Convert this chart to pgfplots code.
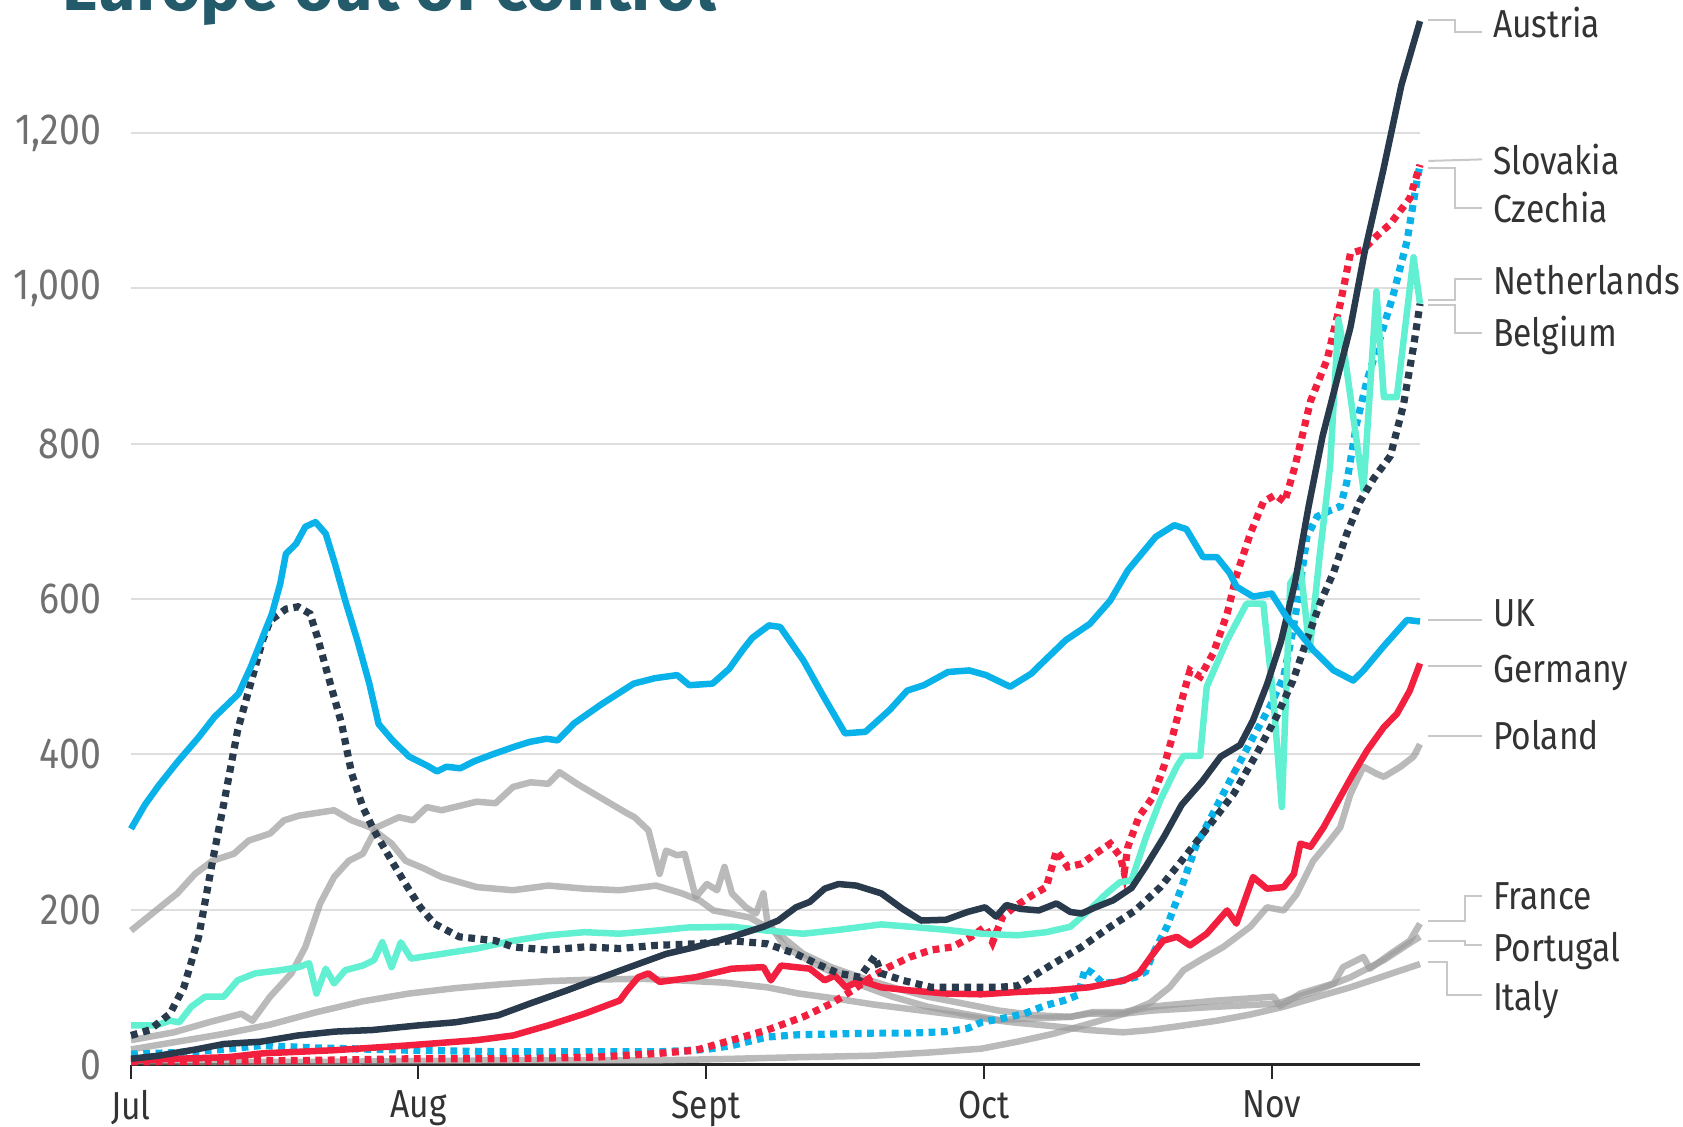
\documentclass[border=0pt]{standalone}
\usepackage{pgfplots}
\pgfplotsset{compat=1.18}
\usepackage{fontspec}
\setmainfont{Fira Sans}[FakeStretch=0.86]
\newfontfamily\titlefont{Fira Sans}
\definecolor{ukblue}{HTML}{0AB2EA}
\definecolor{navy}{HTML}{283A4C}
\definecolor{cred}{HTML}{F2203E}
\definecolor{turq}{HTML}{62F0D2}
\definecolor{gline}{HTML}{9C9C9C}
\definecolor{gridc}{HTML}{DEDEDE}
\definecolor{leader}{HTML}{C8C8C8}
\definecolor{ttl}{HTML}{245B6B}
\definecolor{lbl}{HTML}{333333}
\definecolor{ytl}{HTML}{707070}
\tikzset{
  solidl/.style={line width=0.65mm, line join=round},
  dotl/.style={line width=0.72mm, dash pattern=on 0.68mm off 0.55mm, line cap=butt},
  grayl/.style={line width=0.65mm, line join=round, gline, opacity=0.7},
  lead/.style={draw=leader, line width=0.2mm},
  lab/.style={anchor=west, inner sep=0pt, text height=2.7mm, text depth=0pt, text=lbl, font=\fontsize{11.1}{13}\selectfont},
}
\begin{document}
\begin{tikzpicture}
\begin{axis}[
  at={(0,0)}, anchor=south west,
  scale only axis, width=128.9mm, height=93.2mm,
  xmin=0, xmax=139, ymin=0, ymax=1200,
  clip=false,
  axis x line*=bottom, axis y line*=left,
  y axis line style={draw=none},
  x axis line style={line width=0.3mm, draw=black!85},
  xtick={0,31,62,92,123}, xticklabels={Jul,Aug,Sept,Oct,Nov},
  ytick={0,200,400,600,800,1000,1200}, yticklabels={0,200,400,600,800,{1,000},{1,200}},
  tick align=outside,
  xtick style={line width=0.2mm, draw=black!85, /pgfplots/major tick length=1.4mm},
  ytick style={draw=none, /pgfplots/major tick length=0pt},
  ymajorgrids, grid style={draw=gridc, line width=0.2mm},
  yticklabel style={anchor=east, inner sep=0pt, xshift=-1.4mm, text=ytl, font=\fontsize{12.4}{14}\selectfont},
  xticklabel style={anchor=north, inner sep=0pt, yshift=-1.0mm, text=lbl, font=\fontsize{11.1}{13}\selectfont},
]
% Poland
\addplot[grayl] coordinates {(0,5)(10,4)(20,4)(30,5)(40,6)(50,6)(57,6)(65,8)(72,10)(80.2,12)(86,16)(91.7,21)(95.6,30)(99.4,40)(103.3,53)(107.1,66)(109.9,80)(112,100)(113.5,122)(115.3,135)(117.8,152)(120.7,178)(122.5,203)(124.3,199)(125.7,220)(127.5,263)(129.3,289)(130.4,306)(131.5,349)(132.9,384)(134.3,375)(135.1,371)(136.9,384)(138.3,397)(139,413)};
% Italy
\addplot[grayl] coordinates {(0,20)(5,30)(10,40)(15,52)(20,68)(25,82)(30,92)(35,99)(40,104)(45,108)(50,110)(55,111)(59,109)(64,106)(68.6,100)(72,92)(76.3,85)(80,78)(84,72)(88,66)(91.7,60)(95,55)(99.4,50)(103.3,45)(107,42)(109.9,45)(113,50)(117.1,57)(120.7,65)(124.3,75)(128,88)(131.5,100)(135,114)(139,130)};
% Portugal
\addplot[grayl] coordinates {(0,173)(2.7,199)(5,221)(6.9,246)(8.8,263)(11.1,272)(12.7,289)(15,298)(16.5,315)(18.1,321)(21.9,328)(23.8,315)(25.8,306)(28.1,285)(29.6,263)(31.6,253)(33.5,242)(37.3,229)(41.2,225)(45,231)(48.9,227)(52.7,225)(56.6,231)(59.4,221)(61.3,212)(62.8,199)(66.7,190)(69.8,169)(72.5,143)(75.5,126)(78.6,113)(82.1,100)(85.9,88)(89.8,79)(93.6,70)(97.5,64)(101.3,62)(103.3,66)(107,66)(110,70)(117.1,75)(123.6,79)(127.9,96)(131.5,113)(135.1,135)(138.3,160)(139,165)};
% France
\addplot[grayl] coordinates {(0,32)(4.6,42)(8.4,55)(11.9,66)(13.1,57)(15,88)(17.3,118)(18.8,152)(20.4,208)(21.9,242)(23.5,263)(25,272)(26.5,306)(28.9,319)(30.4,315)(31.9,332)(33.5,328)(37.3,339)(39.3,337)(41.2,358)(43.1,364)(45,362)(46.2,377)(48.1,362)(50.8,343)(53.5,324)(54.3,319)(55.8,302)(57,246)(57.7,276)(58.9,270)(59.7,272)(60.9,216)(62.1,233)(63.2,225)(64,255)(64.8,221)(66.3,203)(67.4,195)(68.2,221)(68.6,186)(70.5,152)(74.4,126)(78.2,105)(82.1,88)(85.9,75)(89.8,66)(93.6,58)(97.5,60)(101.3,62)(103.7,68)(107,68)(110,75)(113.5,79)(117.1,83)(121,86)(123.2,88)(123.9,76)(126.1,92)(129.7,105)(130.7,126)(132.9,139)(133.6,124)(135.8,143)(137.9,160)(139,182)};
% Czechia
\addplot[dotl, ukblue] coordinates {(0,14)(5,16)(10,20)(14,25)(20,22)(30,19)(40,17)(50,17)(57,17)(62,20)(64.8,25)(68.6,36)(72,39)(76.3,40)(80,41)(84,41)(88,43)(90.2,47)(91.7,55)(94,60)(96.3,66)(98.7,77)(100.6,83)(102.1,90)(102.9,124)(103.7,118)(104.8,105)(106.4,107)(108.3,113)(109.4,120)(110.2,143)(111.7,178)(113.3,229)(114.8,281)(116.6,322)(118.9,375)(121,422)(122.8,461)(124.3,500)(125.3,560)(126.1,620)(126.8,680)(127.9,706)(129.3,714)(130.4,719)(131.1,750)(132.2,828)(133.3,882)(134.7,936)(136.1,991)(137.6,1061)(138.7,1140)(139,1159)};
% Slovakia
\addplot[dotl, cred] coordinates {(0,4)(10,5)(20,6)(30,8)(40,8)(50,10)(57,15)(60.9,19)(64.8,32)(68.6,45)(72.5,62)(75.5,79)(77.8,96)(79.8,113)(81.7,126)(84,139)(86.3,148)(88.6,152)(90.6,165)(92.1,178)(92.9,158)(94,191)(95.2,203)(97.1,218)(98.7,229)(99.8,276)(101,255)(102.5,259)(104,272)(105.6,285)(106.7,268)(107.1,248)(107.5,281)(108.7,320)(110.2,345)(111.4,385)(112.4,427)(113.5,478)(114.2,508)(115.3,500)(116.7,530)(118.2,581)(119.2,630)(120.7,684)(122.1,725)(123.4,734)(124.4,725)(125.5,770)(127.2,855)(129,909)(130.4,980)(131.5,1045)(132.9,1050)(134.3,1067)(135.8,1083)(137.9,1116)(139,1159)};
% Germany
\addplot[solidl, cred] coordinates {(0,6)(5,8)(10.4,10)(14.2,15)(21.9,19)(29.6,25)(37.3,32)(41.2,38)(45,51)(48.9,66)(52.7,83)(53.5,96)(54.7,113)(55.8,118)(57,107)(60.9,113)(64.8,124)(68.2,126)(69,109)(70.1,128)(73.2,124)(74.8,109)(75.9,115)(77.1,100)(78.6,109)(80.9,100)(84,96)(87.9,92)(91.7,91)(95.6,94)(99.4,96)(103.3,100)(107.1,109)(108.7,118)(110.2,143)(111.3,160)(112.8,165)(114.2,154)(116,169)(118.2,199)(119.2,182)(121,242)(122.5,227)(124.3,229)(125.4,246)(126.1,285)(127.2,281)(128.6,306)(130.4,345)(131.8,375)(133.3,405)(135.1,435)(136.5,452)(137.9,482)(139,517)};
% Belgium (turquoise)
\addplot[solidl, turq] coordinates {(0,51)(2.7,51)(4.2,57)(5.2,55)(6.5,75)(8,88)(10,88)(11.5,109)(13.4,118)(16.1,122)(18.1,126)(19.2,131)(20,92)(21,124)(21.9,105)(23.1,122)(25,128)(26.2,135)(27.1,158)(28.1,126)(29.1,158)(30.2,137)(33.5,143)(37.3,150)(41.2,160)(45,167)(48.9,171)(52.7,169)(56.6,173)(60,177)(64.8,178)(68.6,173)(72.5,169)(76.3,174)(80.9,181)(84,178)(87.9,174)(91.7,169)(95.6,167)(98.7,171)(101.3,178)(103.3,199)(105.2,221)(106.6,235)(107.9,238)(109.5,295)(111,341)(112.8,385)(113.5,398)(115.3,398)(116,487)(118.2,547)(120.3,594)(122.1,594)(123.2,470)(124.1,332)(125,620)(126.1,641)(127.1,534)(128.2,658)(129.3,770)(130.2,960)(130.8,920)(132.9,741)(134.3,996)(135.1,860)(136.5,860)(138.3,1040)(139,980)};
% Netherlands (dotted navy)
\addplot[dotl, navy] coordinates {(0,38)(2,45)(4.2,66)(5.7,100)(7.3,165)(8.8,263)(10,336)(11.5,431)(12.9,491)(14.2,547)(15,572)(16.7,587)(18,590)(19.3,581)(20.1,551)(21,512)(21.8,478)(22.7,440)(23.8,375)(25,332)(26.2,302)(28.1,263)(29.6,233)(31.2,203)(32.7,182)(35.4,165)(39.3,160)(41.2,152)(45,148)(48.9,152)(52.7,150)(56.6,154)(60.9,156)(64.8,160)(68.6,156)(71.7,143)(74,130)(76.3,118)(78.6,113)(80.2,140)(80.9,118)(83.2,109)(86.3,100)(89.8,100)(93.6,100)(95.6,102)(97.1,113)(99.4,130)(102.5,152)(105.6,178)(108.3,199)(111,229)(113.3,263)(115.6,298)(118.9,349)(121.4,401)(123.5,448)(125.3,495)(126.8,547)(128.2,594)(129.7,635)(131.1,684)(132.5,725)(134,755)(135.8,784)(137.2,849)(138.3,925)(139,980)};
% Austria
\addplot[solidl, navy] coordinates {(0,8)(3,12)(7,20)(10,27)(14,30)(18,38)(22,43)(26,45)(31,51)(35,55)(39.6,64)(43,79)(47,96)(50.8,113)(54.7,130)(57.7,143)(60.9,152)(64.8,165)(68.2,178)(69.8,186)(71.7,203)(73.2,210)(74.8,227)(76.3,233)(78.2,231)(80.9,221)(83.2,201)(85.2,186)(87.9,187)(90.2,197)(92.1,203)(93.3,191)(94.4,206)(95.9,201)(97.9,199)(99.8,208)(101.3,197)(102.5,195)(104,203)(105.9,212)(107.9,228)(109.4,255)(111.4,294)(113.3,335)(115.5,365)(117.5,397)(119.6,412)(121,444)(122.5,490)(124,545)(125.5,620)(127,720)(128.5,810)(130,880)(131.5,950)(133,1045)(135,1150)(137,1262)(139,1344)};
% UK
\addplot[solidl, ukblue] coordinates {(0,304)(1.5,335)(3,360)(5,390)(7.3,422)(9,448)(11.6,478)(12.9,512)(14.2,551)(15.2,581)(16.1,620)(16.7,658)(17.8,671)(18.8,693)(19.9,699)(21,684)(22,645)(23.1,598)(24.4,547)(25.7,491)(26.7,439)(28.2,418)(30,397)(32,385)(33,378)(34,384)(35.5,382)(37,391)(39,400)(41.4,410)(43,416)(44.8,420)(46,418)(47.8,440)(50.8,465)(54.2,491)(56.5,498)(58.9,502)(60.2,489)(62.7,491)(64.5,510)(66,535)(67,550)(68.8,566)(70,564)(72.5,521)(74.7,474)(77,427)(79.2,429)(81.8,457)(83.7,482)(85.5,489)(88.1,506)(90.4,508)(92.2,502)(94.8,487)(97.1,504)(98.2,517)(100.8,547)(103.4,568)(105.6,598)(107.5,637)(110.5,680)(112.5,695)(113.8,690)(115.6,654)(117.1,654)(118.5,633)(119.2,616)(121,603)(123,607)(124.6,577)(126.1,555)(127.5,534)(129.7,508)(131.8,495)(132.9,508)(135,538)(137.6,573)(139,571)};
% leaders and labels
\draw[lead] (axis cs:139.9,1345) -- (axis cs:142.8,1345) -- (axis cs:142.8,1330) -- (axis cs:145.7,1330);
\node[lab] at (axis cs:146.8,1340) {Austria};
\draw[lead] (axis cs:139.9,1164) -- (axis cs:145.7,1166);
\node[lab] at (axis cs:146.8,1164) {Slovakia};
\draw[lead] (axis cs:139.9,1155) -- (axis cs:142.8,1155) -- (axis cs:142.8,1103) -- (axis cs:145.7,1103);
\node[lab] at (axis cs:146.8,1102) {Czechia};
\draw[lead] (axis cs:139.9,985) -- (axis cs:142.8,985) -- (axis cs:142.8,1012) -- (axis cs:145.7,1012);
\node[lab] at (axis cs:146.8,1009) {Netherlands};
\draw[lead] (axis cs:139.9,978) -- (axis cs:142.8,978) -- (axis cs:142.8,942) -- (axis cs:145.7,942);
\node[lab] at (axis cs:146.8,943) {Belgium};
\draw[lead] (axis cs:139.9,573) -- (axis cs:145.7,573);
\node[lab] at (axis cs:146.8,582) {UK};
\draw[lead] (axis cs:139.9,514) -- (axis cs:145.7,514);
\node[lab] at (axis cs:146.8,510) {Germany};
\draw[lead] (axis cs:139.9,423) -- (axis cs:145.7,423);
\node[lab] at (axis cs:146.8,424) {Poland};
\draw[lead] (axis cs:139.9,186) -- (axis cs:143.9,186) -- (axis cs:143.9,218) -- (axis cs:145.7,218);
\node[lab] at (axis cs:146.8,218) {France};
\draw[lead] (axis cs:139.9,159) -- (axis cs:143.9,159) -- (axis cs:143.9,154) -- (axis cs:145.7,154);
\node[lab] at (axis cs:146.8,151) {Portugal};
\draw[lead] (axis cs:139.9,133) -- (axis cs:141.9,133) -- (axis cs:141.9,90) -- (axis cs:145.7,90);
\node[lab] at (axis cs:146.8,88) {Italy};
\end{axis}
\node[anchor=base west, inner sep=0pt, text=ttl, font=\titlefont\bfseries\fontsize{19.3}{22}\selectfont] at (-6.9mm,105.4mm) {Europe out of control};
\pgfresetboundingbox
\useasboundingbox (-13.1mm,-6.2mm) rectangle (155.2mm,106.5mm);
\end{tikzpicture}
\end{document}
